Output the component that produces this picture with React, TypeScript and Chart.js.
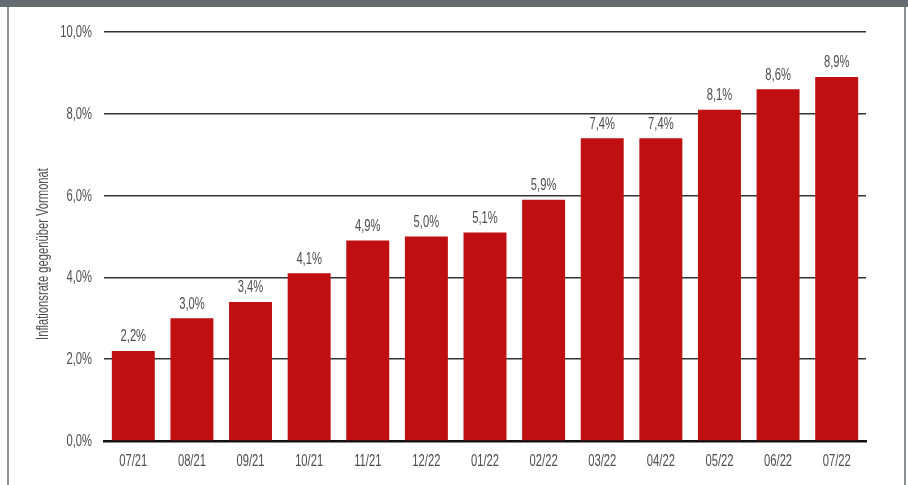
import React, { useEffect, useRef } from "react";
import { Chart, registerables } from "chart.js";

Chart.register(...registerables);

const categories = ["07/21", "08/21", "09/21", "10/21", "11/21", "12/22", "01/22", "02/22", "03/22", "04/22", "05/22", "06/22", "07/22"];
const inflation = [2.2, 3.0, 3.4, 4.1, 4.9, 5.0, 5.1, 5.9, 7.4, 7.4, 8.1, 8.6, 8.9];
const yTicks = [0, 2, 4, 6, 8, 10];
const yTitle = "Inflationsrate gegenüber Vormonat";

const FONT = "'Liberation Sans', Arial, sans-serif";
const NARROW = 0.7;
const TEXT = "#4d4d4d";
const fmt = (v: number) => v.toFixed(1).replace(".", ",") + "%";

function narrowText(ctx: any, text: string, x: number, y: number, align: string, size: number, rotate = false) {
  ctx.save();
  ctx.translate(x, y);
  if (rotate) ctx.rotate(-Math.PI / 2);
  ctx.scale(NARROW, 1);
  ctx.font = `${size}px ${FONT}`;
  ctx.fillStyle = TEXT;
  ctx.textAlign = align;
  ctx.textBaseline = "middle";
  ctx.fillText(text, 0, 0);
  ctx.restore();
}

const textLayer = {
  id: "textLayer",
  afterDraw(chart: any) {
    const ctx = chart.ctx;
    const xs = chart.scales.x;
    const ys = chart.scales.y;
    yTicks.forEach((v) => {
      narrowText(ctx, fmt(v), ys.right - 12, ys.getPixelForValue(v) + 0.5, "right", 16);
    });
    categories.forEach((c, i) => {
      narrowText(ctx, c, xs.getPixelForTick(i), 461.5, "center", 16);
    });
    const meta = chart.getDatasetMeta(0);
    meta.data.forEach((el: any, i: number) => {
      narrowText(ctx, fmt(inflation[i]), el.x, el.y - 14, "center", 16);
    });
    narrowText(ctx, yTitle, 44, 254, "center", 16, true);
  },
};

export default function App() {
  const ref = useRef<HTMLCanvasElement>(null);
  useEffect(() => {
    if (!ref.current) return;
    const chart = new Chart(ref.current, {
      type: "bar",
      data: {
        labels: categories,
        datasets: [
          {
            data: inflation,
            backgroundColor: "#C00F10",
            barPercentage: 0.733,
            categoryPercentage: 1,
          },
        ],
      },
      options: {
        animation: false,
        responsive: false,
        maintainAspectRatio: false,
        layout: { padding: { left: 0, right: 42, top: 32, bottom: 0 } },
        plugins: { legend: { display: false }, tooltip: { enabled: false } },
        scales: {
          x: {
            grid: { display: false },
            border: { display: true, color: "#111", width: 2.5 },
            ticks: { display: false },
            afterFit: (s: any) => {
              s.height = 44;
            },
          },
          y: {
            min: 0,
            max: 10,
            afterBuildTicks: (s: any) => {
              s.ticks = yTicks.map((v) => ({ value: v }));
            },
            grid: { color: "#333", lineWidth: 1.5, drawTicks: false },
            border: { display: false },
            ticks: { display: false },
            afterFit: (s: any) => {
              s.width = 104;
            },
          },
        },
      },
      plugins: [textLayer],
    });
    return () => chart.destroy();
  }, []);

  return (
    <div style={{ position: "fixed", left: 0, top: 0, width: 908, height: 485, background: "#fff", overflow: "hidden" }}>
      <div style={{ position: "absolute", left: 0, top: 0, width: 908, height: 7, background: "#656c6f" }} />
      <div style={{ position: "absolute", left: 7, top: 7, width: 2, height: 478, background: "#8a8f92" }} />
      <div style={{ position: "absolute", left: 904, top: 7, width: 2, height: 478, background: "#8a8f92" }} />
      <canvas ref={ref} width={908} height={485} style={{ position: "absolute", left: 0, top: 0, width: 908, height: 485 }} />
    </div>
  );
}
